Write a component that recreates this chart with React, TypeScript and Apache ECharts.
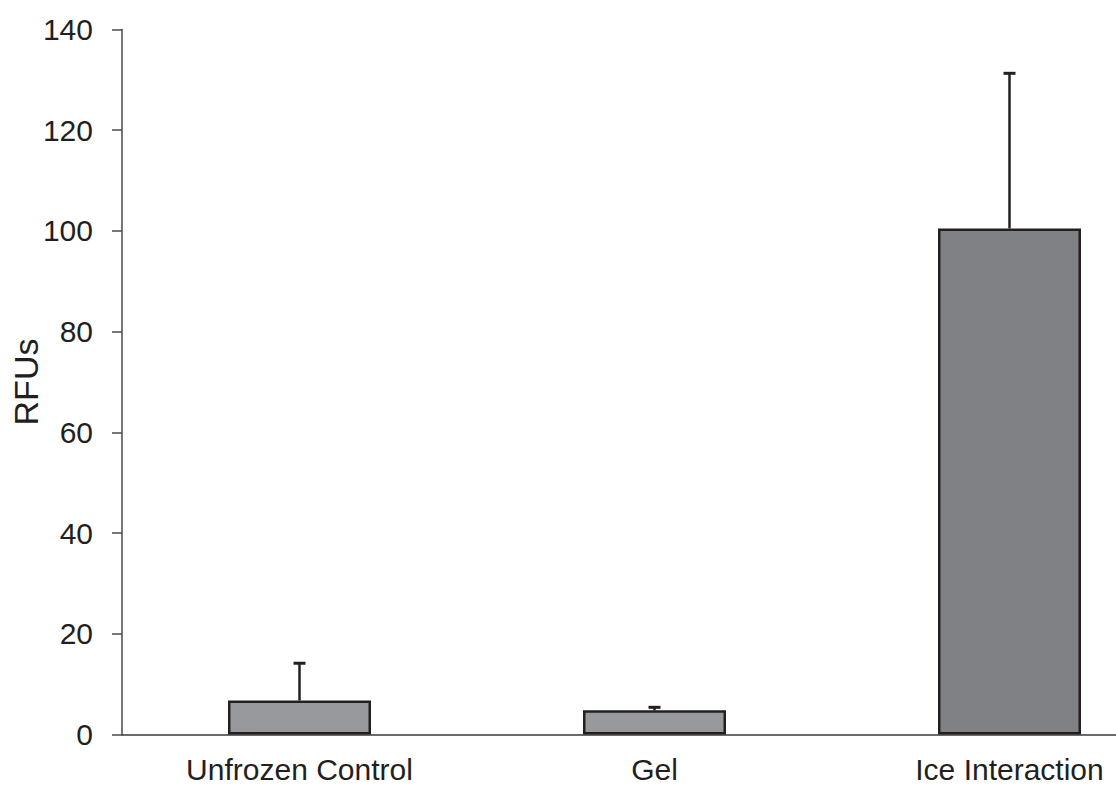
import React, { useEffect, useRef } from "react";
import * as echarts from "echarts";

const categories = ["Unfrozen Control", "Gel", "Ice Interaction"];
const means = [6.75, 4.8, 100.5];
const errors = [7.4, 0.6, 30.8];
const barColors = ["#98999d", "#98999d", "#808185"];
const yTicks = { min: 0, max: 140, interval: 20 };

export default function App() {
  const ref = useRef<HTMLDivElement>(null);
  useEffect(() => {
    if (!ref.current) return;
    const chart = echarts.init(ref.current, null, { renderer: "svg" });
    const font = "'Liberation Sans', Arial, sans-serif";
    chart.setOption({
      animation: false,
      backgroundColor: "#ffffff",
      grid: { left: 122, top: 29.5, bottom: 52.5, right: -71, outerBoundsMode: "none", containLabel: false },
      xAxis: {
        type: "category",
        data: categories,
        boundaryGap: true,
        axisLine: { lineStyle: { color: "#3a3a3a", width: 1.5 } },
        axisTick: { show: false },
        axisLabel: { color: "#231f20", fontSize: 30, fontFamily: font, margin: 20, lineHeight: 30 },
      },
      yAxis: {
        type: "value",
        min: yTicks.min,
        max: yTicks.max,
        interval: yTicks.interval,
        name: "RFUs",
        nameLocation: "middle",
        nameGap: 79,
        nameMoveOverlap: false,
        nameTextStyle: { color: "#231f20", fontSize: 34, fontFamily: font },
        axisLine: { show: true, lineStyle: { color: "#4a4a4a", width: 1.5 } },
        axisTick: { show: true, inside: false, length: 10, lineStyle: { color: "#4a4a4a", width: 1.5 } },
        splitLine: { show: false },
        axisLabel: { color: "#231f20", fontSize: 30, fontFamily: font, margin: 29 },
      },
      series: [
        {
          type: "bar",
          barWidth: 143,
          data: means.map((v, i) => ({
            value: v,
            itemStyle: { color: barColors[i], borderColor: "#231f20", borderWidth: 2.5 },
          })),
          z: 2,
        },
        {
          type: "custom",
          z: 3,
          data: means.map((v, i) => [i, v, v + errors[i]]),
          renderItem: (params: any, api: any) => {
            const x = api.value(0);
            const lo = api.coord([x, api.value(1)]);
            const hi = api.coord([x, api.value(2)]);
            const hw = 6;
            return {
              type: "group",
              children: [
                {
                  type: "line",
                  shape: { x1: lo[0], y1: lo[1], x2: hi[0], y2: hi[1] },
                  style: { stroke: "#231f20", lineWidth: 2.5 },
                },
                {
                  type: "line",
                  shape: { x1: hi[0] - hw, y1: hi[1], x2: hi[0] + hw, y2: hi[1] },
                  style: { stroke: "#231f20", lineWidth: 3 },
                },
              ],
            };
          },
        },
      ],
    });
    return () => chart.dispose();
  }, []);
  return (
    <div
      ref={ref}
      style={{ position: "fixed", left: 0, top: 0, width: 1116, height: 787, background: "#fff" }}
    />
  );
}
